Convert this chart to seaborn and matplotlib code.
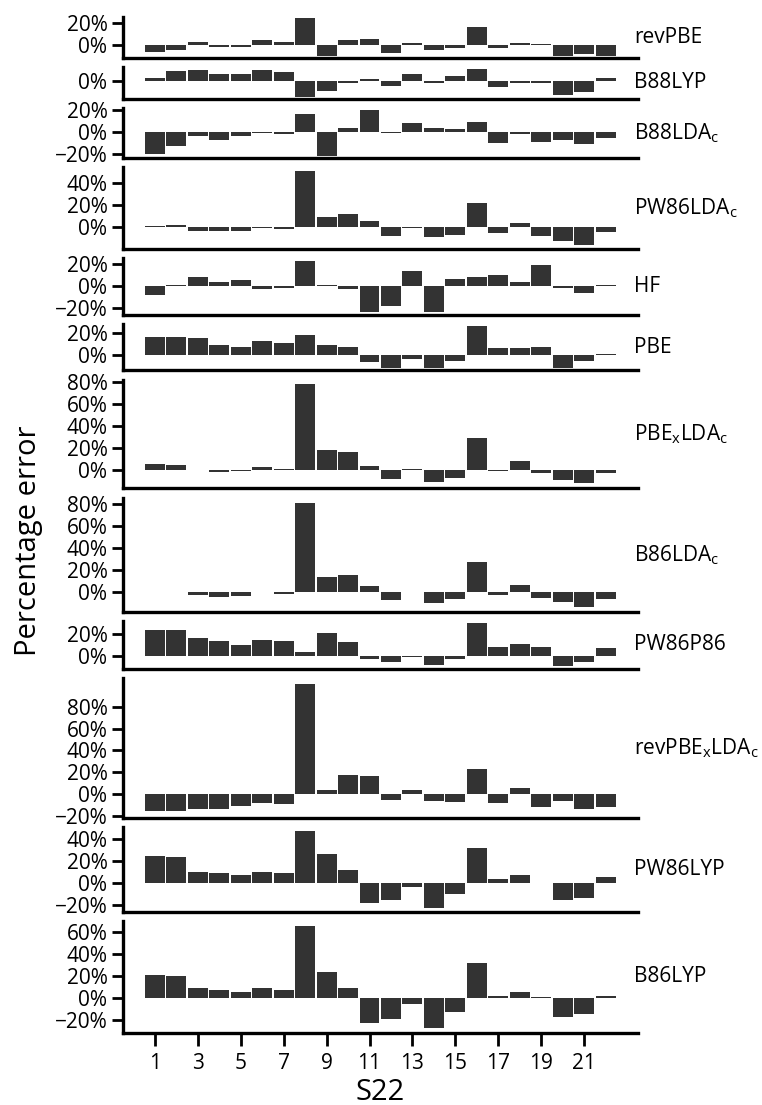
import numpy as np
import pandas as pd
import matplotlib
matplotlib.use("Agg")
import matplotlib.pyplot as plt
from matplotlib.ticker import FixedLocator, PercentFormatter
import seaborn as sns

# S22 system index
systems = list(range(1, 23))

# Percentage error of each functional on the S22 set
revPBE = [-6.5, -4, 2.8, -2, -2, 5, 2.8, 24.4, -10, 4.3, 6, -7.4, 2, -4, -3, 16.3, -3, 1.8, 1, -10, -7.7, -10]
B88LYP = [2.8, 9, 10, 7, 7, 10, 8.6, -14.5, -9, -2, 1.8, -4, 6.5, -2, 4.6, 11.5, -5, -1.2, -1.2, -13, -10, 3.4]
B88LDAc = [-20.5, -13, -4, -7, -4, -0.8, -2, 16.5, -22, 4, 20, -0.8, 8.4, 4, 3, 9.3, -10.5, -1.5, -9.3, -7.5, -11.4, -5.7]
PW86LDAc = [1, 1.8, -3.3, -3.3, -3.3, -0.8, -1.5, 51, 9, 12, 5.5, -8, -0.8, -9, -7, 22, -5, 3.6, -8, -12.4, -16.6, -4.3]
HF = [-8.5, 0.8, 8.5, 4, 5.8, -3, -1.5, 23, 0.8, -3, -24, -18.5, 14, -24, 6.7, 8.5, 10.3, 4, 19.4, -2, -6.7, 1.2]
PBE = [15.6, 15.6, 14.7, 9, 7.2, 12.8, 11, 17.5, 9, 7.2, -6.5, -12.5, -4, -12.5, -5.6, 26, 6.2, 6.2, 7.2, -12.5, -5.6, 0.8]
PBExLDAc = [5.1, 4.2, -0.8, -2, -1.2, 2, 0.8, 77.6, 17.8, 16, 3.3, -8.2, 0.8, -11, -7.5, 28.7, -0.9, 7.9, -3.6, -10, -12.7, -3.6]
B86LDAc = [-0.8, -0.8, -3.6, -4.8, -3.9, -0.8, -1.8, 81, 13.2, 15, 5.1, -8.1, -0.8, -10.8, -7.2, 26.8, -3, 6, -5.7, -10, -13.8, -6.6]
PW86P86 = [23.6, 23.6, 16, 13.3, 9.7, 14.2, 13.3, 3.6, 20.6, 12.4, -3, -5.5, -1.2, -8.8, -3, 29.7, 7.9, 10.6, 7.9, -9.7, -5.5, 7]
revPBExLDAc = [-15, -15.6, -13.6, -13.6, -10.3, -7.5, -8.5, 100.6, 4.2, 17.8, 17, -4.8, 4.2, -5.7, -6.6, 23.3, -7.5, 6, -11.2, -5.7, -13, -11.2]
PW86LYP = [24.7, 23.8, 9.3, 8.4, 6.6, 9.3, 8.4, 47.3, 26.5, 11.1, -18.4, -16, -3.9, -22.9, -10.5, 31.9, 3, 6.6, -0.8, -16, -13.9, 4.8]
B86LYP = [21.5, 20.6, 8.8, 7, 6, 8.8, 7, 66, 24.2, 8.8, -22.7, -19, -5.5, -27.3, -12.7, 32.4, 2.4, 6, 0.8, -17.3, -14.5, 1.5]

functionals = [
    ("revPBE", revPBE),
    ("B88LYP", B88LYP),
    (r"B88LDA$_\mathrm{c}$", B88LDAc),
    (r"PW86LDA$_\mathrm{c}$", PW86LDAc),
    ("HF", HF),
    ("PBE", PBE),
    (r"PBE$_\mathrm{x}$LDA$_\mathrm{c}$", PBExLDAc),
    (r"B86LDA$_\mathrm{c}$", B86LDAc),
    ("PW86P86", PW86P86),
    (r"revPBE$_\mathrm{x}$LDA$_\mathrm{c}$", revPBExLDAc),
    ("PW86LYP", PW86LYP),
    ("B86LYP", B86LYP),
]

ytick_values = [-20, 0, 20, 40, 60, 80]
xtick_values = list(range(1, 22, 2))

sns.set_style("ticks")
plt.rcParams["font.family"] = ["Open Sans", "DejaVu Sans"]
plt.rcParams["mathtext.fontset"] = "custom"
plt.rcParams["mathtext.rm"] = "Open Sans"
plt.rcParams["axes.unicode_minus"] = True

# y-limits with a 5% pad; panel heights follow the value range so every
# panel shares the same vertical scale
limits = []
for _, vals in functionals:
    lo, hi = min(vals), max(vals)
    pad = 0.05 * (hi - lo)
    limits.append((lo - pad, hi + pad))
ratios = [hi - lo for lo, hi in limits]

fig = plt.figure(figsize=(7.62, 11.05), dpi=100)
gs = fig.add_gridspec(len(functionals), 1, height_ratios=ratios, hspace=0.12,
                      left=0.161, right=0.837, top=0.985, bottom=0.065)

for i, ((name, vals), (lo, hi)) in enumerate(zip(functionals, limits)):
    ax = fig.add_subplot(gs[i, 0])
    df = pd.DataFrame({"system": systems, "error": vals})
    sns.barplot(data=df, x="system", y="error", ax=ax, native_scale=True,
                orient="x", width=0.93, color="#333333", saturation=1,
                linewidth=0, errorbar=None)
    ax.set_xlim(-0.5, 23.5)
    ax.set_ylim(lo, hi)
    ax.yaxis.set_major_locator(FixedLocator(ytick_values))
    ax.yaxis.set_major_formatter(PercentFormatter(decimals=0))
    ax.set_ylabel("")
    ax.set_xlabel("")
    sns.despine(ax=ax)
    for side in ("left", "bottom"):
        ax.spines[side].set_linewidth(2.4)
        ax.spines[side].set_color("black")
    ax.tick_params(axis="y", labelsize=15, length=8, width=2, pad=3,
                   colors="black")
    if i < len(functionals) - 1:
        ax.set_xticks([])
    else:
        ax.set_xticks(xtick_values)
        ax.set_xticklabels([str(v) for v in xtick_values])
        ax.tick_params(axis="x", labelsize=15, length=9, width=2, pad=5,
                       colors="black")
        ax.set_xlabel("S22", fontsize=21, labelpad=3, color="black")
    ax.text(0.993, 0.5, name, transform=ax.transAxes, ha="left", va="center",
            fontsize=15, color="black")

fig.text(0.038, 0.511, "Percentage error", rotation=90, ha="center",
         va="center", fontsize=21, color="black")

fig.savefig("out.png", dpi=100)
